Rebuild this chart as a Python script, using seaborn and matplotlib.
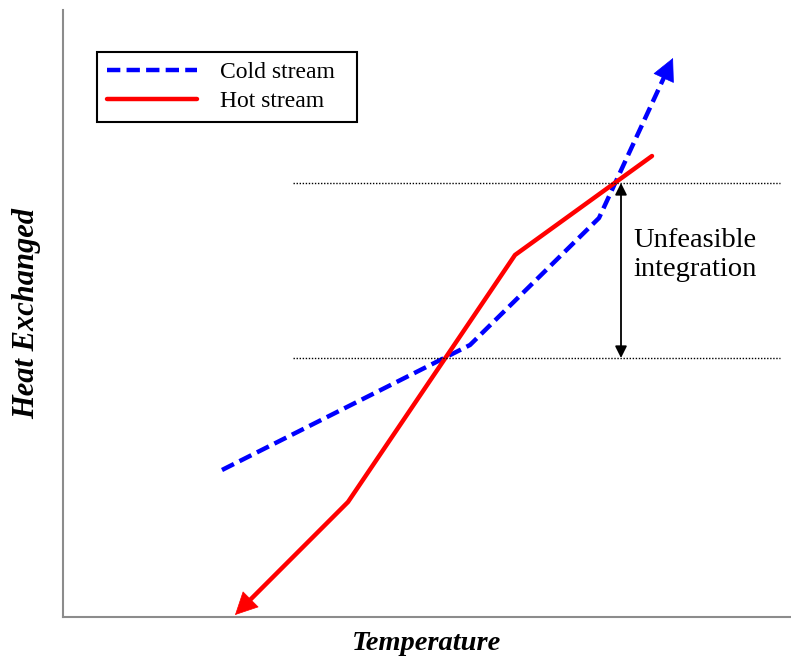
import numpy as np
import pandas as pd
import matplotlib
matplotlib.use("Agg")
import matplotlib.pyplot as plt
from matplotlib.lines import Line2D
import seaborn as sns

# ---- data (arbitrary units) ----
cold_x = [159, 407, 536, 610]
cold_y = [147, 272, 399, 559]
hot_x = [589, 452, 285, 172]
hot_y = [461, 362, 115, 2]
band_levels = [259, 434]
band_x = [230, 717]
arrow_x = 558
labels = ["Cold stream  ", "Hot stream  "]

sns.set_theme(style="white")
plt.rcParams["font.family"] = ["Liberation Serif", "DejaVu Serif"]
plt.rcParams["text.color"] = "black"

W, H = 791, 658
fig = plt.figure(figsize=(W / 100, H / 100), dpi=100)
ax = fig.add_axes([63 / W, (H - 617) / H, (790 - 63) / W, (617 - 10) / H])
ax.set_xlim(0, 727)
ax.set_ylim(0, 607)


def shorten(xs, ys, d):
    xs = np.array(xs, float)
    ys = np.array(ys, float)
    dx, dy = xs[-1] - xs[-2], ys[-1] - ys[-2]
    L = np.hypot(dx, dy)
    xs2, ys2 = xs.copy(), ys.copy()
    xs2[-1] -= dx / L * d
    ys2[-1] -= dy / L * d
    return xs2, ys2


DASH = [3.0, 1.4]
cx, cy = shorten(cold_x, cold_y, 8)
hx, hy = shorten(hot_x, hot_y, 8)
df_c = pd.DataFrame({"x": cx, "y": cy})
df_h = pd.DataFrame({"x": hx, "y": hy})

sns.lineplot(data=df_c, x="x", y="y", sort=False, color="#0000ff", lw=3.2,
             ax=ax, estimator=None)
ax.lines[-1].set_dashes(DASH)
ax.lines[-1].set_dash_capstyle("butt")
sns.lineplot(data=df_h, x="x", y="y", sort=False, color="#ff0000", lw=3.2,
             ax=ax, estimator=None)

# arrow heads
for xs, ys, col in [(cold_x, cold_y, "#0000ff"), (hot_x, hot_y, "#ff0000")]:
    ax.annotate("", xy=(xs[-1], ys[-1]),
                xytext=(xs[-1] - (xs[-1] - xs[-2]) * 0.08,
                        ys[-1] - (ys[-1] - ys[-2]) * 0.08),
                arrowprops=dict(arrowstyle="-|>,head_length=0.9,head_width=0.45",
                                color=col, lw=0.5, mutation_scale=17,
                                shrinkA=0, shrinkB=0))

# dotted band
ax.hlines(band_levels, band_x[0], band_x[1], colors="black",
          linestyles=(0, (1, 1.2)), lw=1.0)
ax.annotate("", xy=(arrow_x, band_levels[1]), xytext=(arrow_x, band_levels[0]),
            arrowprops=dict(arrowstyle="<|-|>,head_length=0.5,head_width=0.25",
                            color="black", lw=1.3, mutation_scale=14,
                            shrinkA=0, shrinkB=0))
ax.text(arrow_x + 12, 362, "Unfeasible\nintegration", fontsize=20.5,
        ha="left", va="center", linespacing=1.25, color="black")

ax.set_xticks([])
ax.set_yticks([])
for s in ["top", "right"]:
    ax.spines[s].set_visible(False)
for s in ["left", "bottom"]:
    ax.spines[s].set_color("#8c8c8c")
    ax.spines[s].set_linewidth(1.5)

ax.set_xlabel("Temperature", fontsize=20.5, fontweight="bold", style="italic",
              labelpad=10, color="black")
ax.set_ylabel("Heat Exchanged", fontsize=22, fontweight="bold", style="italic",
              labelpad=16, color="black")

handles = [Line2D([], [], color="#0000ff", lw=3.2, dashes=DASH),
           Line2D([], [], color="#ff0000", lw=3.2)]
leg = ax.legend(handles, labels, loc="upper left",
                bbox_to_anchor=(97 / W, 1 - 52 / H), bbox_transform=fig.transFigure,
                borderaxespad=0, fontsize=17, handlelength=3.8, handletextpad=1.0,
                labelspacing=0.3, fancybox=False, frameon=True,
                borderpad=0.42, labelcolor="black")
leg.get_frame().set_edgecolor("black")
leg.get_frame().set_linewidth(1.5)
leg.get_frame().set_alpha(1)

fig.savefig("out.png", dpi=100)
